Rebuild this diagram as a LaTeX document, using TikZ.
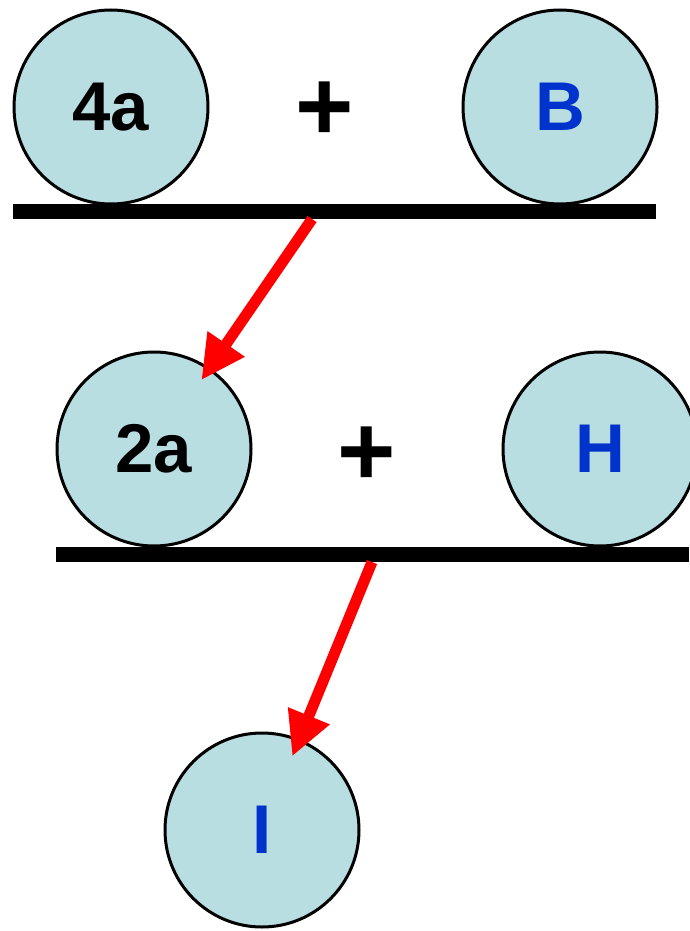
\documentclass[tikz,border=0pt]{standalone}
\usepackage{fontspec}
\setmainfont{Liberation Sans}
\usepackage{xcolor}
\usetikzlibrary{arrows.meta, positioning}
\definecolor{ballfill}{RGB}{185,222,226}
\definecolor{letterblue}{RGB}{0,51,204}
\tikzstyle{arrow} = [line width=11pt, red, -{Triangle[length=44pt,width=42pt]}]

\begin{document}
\begin{tikzpicture}[
        x=1pt, y=-1pt,
        every node/.style={font=\fontsize{69}{69}\selectfont\bfseries},
        ball/.style={circle, draw=black, line width=3pt, fill=ballfill,
            minimum size=194pt, inner sep=0pt, text centered},
        plus/.style={font=\fontsize{100}{100}\selectfont\bfseries},
        bar/.style={line width=15pt, black}
    ]
    \useasboundingbox (0,0) rectangle (689,931);
    % first row
    \node (b4a)  [ball]                   at (111,107) {4a};
    \node (bB)   [ball, text=letterblue]  at (560,107) {B};
    \node (p1)   [plus]                   at (325,111) {+};
    \draw [bar] (13,211) -- (656,211);
    \coordinate (s1) at (312,219);
    % second row
    \node (b2a)  [ball]                   at (154,449) {2a};
    \node (bH)   [ball, text=letterblue]  at (600,449) {H};
    \node (p2)   [plus]                   at (367,456) {+};
    \draw [bar] (56,554) -- (689,554);
    \coordinate (s2) at (372,562);
    % product
    \node (bI)   [ball, text=letterblue]  at (262,830) {I};

    \draw [arrow, shorten >=-15pt] (s1) -- (b2a);
    \draw [arrow, shorten >=-19pt] (s2) -- (bI);
\end{tikzpicture}
\end{document}
